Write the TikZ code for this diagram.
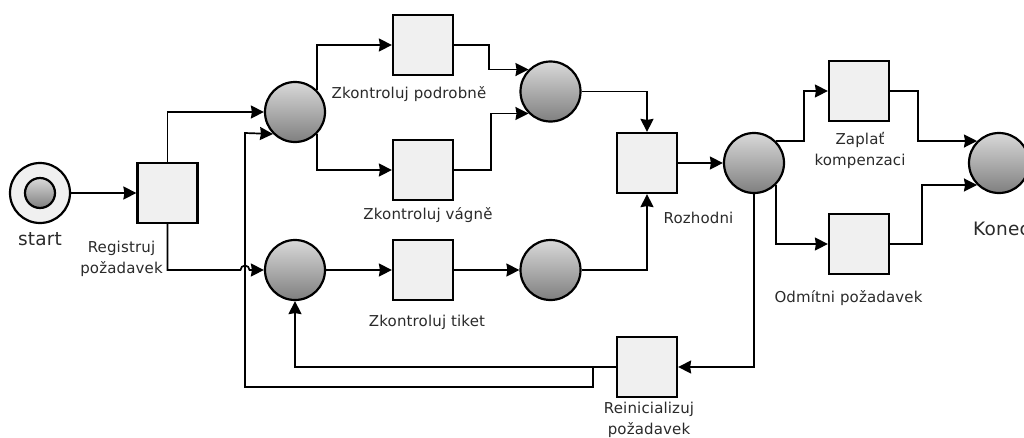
\documentclass[tikz,border=0pt]{standalone}
\usepackage{fontspec}
\setmainfont{DejaVu Sans}
\newfontfamily\lblfont[LetterSpace=1]{DejaVu Sans}
\usepackage{tikz}
\usetikzlibrary{arrows.meta,positioning}
\definecolor{boxfill}{HTML}{F0F0F0}
\definecolor{lbltext}{HTML}{2A2A2A}

\begin{document}
\begin{tikzpicture}[x=1pt,y=1pt,
    >={Stealth[length=13pt,width=13pt,inset=1pt]},
    on grid,
    place/.style = {circle, draw, line width=2.2pt, minimum size=60pt, inner sep=0pt,
                    top color=gray!30, bottom color=gray},
    trans/.style = {rectangle, draw, line width=2.2pt, minimum size=60pt, inner sep=0pt,
                    fill=boxfill},
    conn/.style  = {->, line width=1.7pt},
    lbl/.style   = {inner sep=0pt, align=center, text=lbltext,
                    font=\lblfont\fontsize{15}{21}\selectfont},
    lblbig/.style = {inner sep=0pt, text=lbltext, font=\lblfont\fontsize{18.5}{20}\selectfont}
                    ]
\useasboundingbox (0,0) rectangle (1024,-437);
% places and transitions
\node (start) [place,top color=boxfill,bottom color=boxfill] at (40,-193) {};
\node (startin) [place,minimum size=30pt] at (start) {};
\node (regist) [trans,right=127.5pt of start]       {};
\node (placeA) [place,right=127.5pt of regist,yshift=81pt] {};
\node (placeB) [place,below=158pt of placeA]        {};
\node (podrob) [trans,right=128pt of placeA,yshift=67pt] {};
\node (vagne)  [trans,below=125pt of podrob]        {};
\node (tiket)  [trans,right=128pt of placeB]        {};
\node (placeC) [place,right=127.5pt of podrob,yshift=-46.5pt] {};
\node (placeD) [place,right=127.5pt of tiket]       {};
\node (rozhod) [trans,right=96.5pt of placeC,yshift=-71.5pt] {};
\node (placeE) [place,right=107pt of rozhod]        {};
\node (zaplat) [trans,right=105pt of placeE,yshift=72pt] {};
\node (odmit)  [trans,below=153pt of zaplat]        {};
\node (konec)  [place,right=245pt of placeE]        {};
\node (reinit) [trans,below=204pt of rozhod]        {};
% labels
\node (lstart)  [lblbig,below=46.5pt of start]      {start};
\node (lregist) [lbl,below=65.5pt of regist,xshift=-46pt] {Registruj\\požadavek};
\node (lpodrob) [lbl,below=49pt of podrob,xshift=-14pt] {Zkontroluj podrobně};
\node (lvagne)  [lbl,below=45pt of vagne,xshift=5pt]    {Zkontroluj vágně};
\node (ltiket)  [lbl,below=52pt of tiket,xshift=4pt]    {Zkontroluj tiket};
\node (lrozhod) [lbl,below=55pt of rozhod,xshift=51.5pt] {Rozhodni};
\node (lzaplat) [lbl,below=59.5pt of zaplat,xshift=1pt]  {Zaplať\\kompenzaci};
\node (lodmit)  [lbl,below=54pt of odmit,xshift=-10.5pt] {Odmítni požadavek};
\node (lkonec)  [lblbig,anchor=west] at (973,-229)       {Konec};
\node (lreinit) [lbl,below=53pt of reinit,xshift=2pt]    {Reinicializuj\\požadavek};
% helper points
\coordinate [left=54.5pt of placeB] (jump);
\coordinate [left=54pt of reinit] (branch);
\coordinate [below=20pt of branch] (branchlow);
\coordinate [left=50pt of placeA,yshift=-21pt] (backup);
% connectors
\draw[conn] (start) -- (regist);
\draw[conn] (regist.north) |- (placeA.west);
\draw[conn] (regist.south) |- (jump) arc[start angle=180,end angle=0,radius=4.5pt] -- (placeB.west);
\draw[conn] (placeA.45) |- (podrob.west);
\draw[conn] (placeA.-45) |- (vagne.west);
\draw[conn] (placeB) -- (tiket);
\draw[conn] (podrob.east) -- ++(35,0) |- (placeC.135);
\draw[conn] (vagne.east) -- ++(37,0) |- (placeC.-135);
\draw[conn] (tiket) -- (placeD);
\draw[conn] (placeC.east) -| (rozhod.north);
\draw[conn] (placeD.east) -| (rozhod.south);
\draw[conn] (rozhod) -- (placeE);
\draw[conn] (placeE.45) -- ++(28,0) |- (zaplat.west);
\draw[conn] (placeE.-45) |- (odmit.west);
\draw[conn] (zaplat.east) -- ++(28,0) |- (konec.135);
\draw[conn] (odmit.east) -- ++(32,0) |- (konec.-135);
\draw[conn] (placeE.south) |- (reinit.east);
\draw[conn] (reinit.west) -| (placeB.south);
\draw[conn] (branch) -- (branchlow) -| (backup) -- (placeA.-135);
\end{tikzpicture}
\end{document}
